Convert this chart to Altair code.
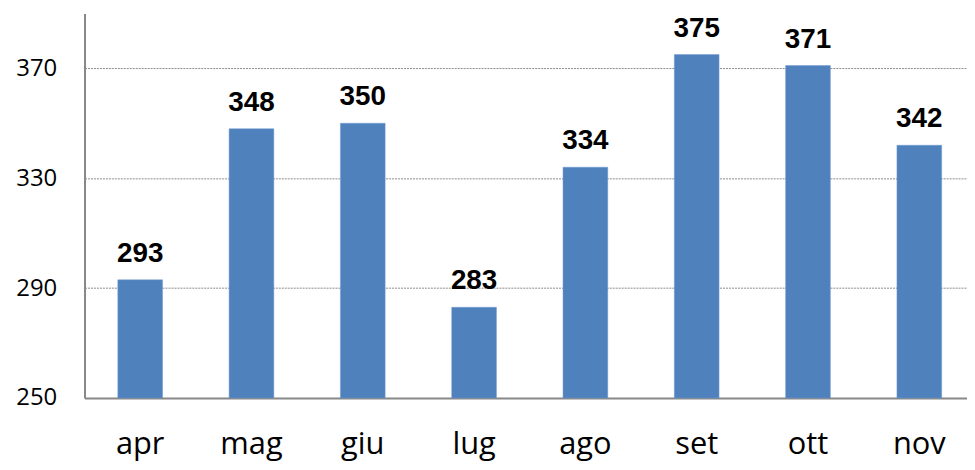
import altair as alt
import pandas as pd

months = ["apr", "mag", "giu", "lug", "ago", "set", "ott", "nov"]
values = [293, 348, 350, 283, 334, 375, 371, 342]
y_ticks = [250, 290, 330, 370]
y_min, y_max = 250, 390

df = pd.DataFrame({"mese": months, "valore": values})

x = alt.X("mese:N", sort=months, title=None,
          scale=alt.Scale(range=[0, 896], paddingInner=0, paddingOuter=0),
          axis=alt.Axis(labelAngle=0, labelFont="Open Sans", labelFontSize=31,
                        labelColor="#000000", labelPadding=56, labelBaseline="alphabetic",
                        ticks=False, tickSize=0,
                        domainColor="#888888", domainWidth=2, grid=False))
y = alt.Y("valore:Q", title=None,
          scale=alt.Scale(domain=[y_min, y_max], nice=False, zero=False),
          axis=alt.Axis(values=y_ticks, labelFont="Open Sans", labelFontSize=24,
                        labelColor="#000000", labelPadding=28, ticks=False, tickSize=0,
                        domainColor="#888888", domainWidth=2,
                        grid=True, gridColor="#8c8c8c", gridDash=[2, 1], gridWidth=1))

bars = alt.Chart(df).mark_bar(size=45, color="#4F81BD", stroke="#6E9AD0", strokeWidth=0.5).encode(
    x=x, y=y, y2=alt.datum(y_min))
labels = alt.Chart(df).mark_text(font="Liberation Sans", fontSize=28, fontWeight="bold",
                                 baseline="alphabetic", dy=-18, color="#000000").encode(
    x=x, y=y, text="valore:Q")

chart = (bars + labels).properties(
    width=888, height=387,
    autosize=alt.AutoSizeParams(type="none"),
    padding={"left": 77, "top": 4, "right": 0, "bottom": 68},
).configure_view(stroke=None)

chart.save("out.html", embed_options={"renderer": "svg", "actions": False})
